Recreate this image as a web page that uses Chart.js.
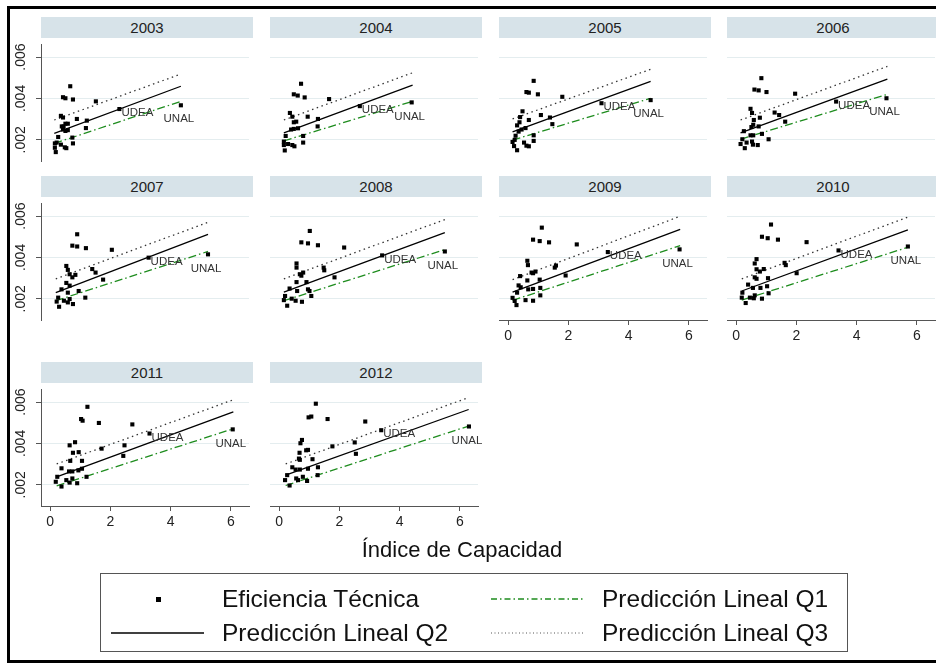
<!DOCTYPE html>
<html>
<head>
<meta charset="utf-8">
<script src="https://cdn.jsdelivr.net/npm/chart.js@4.4.0/dist/chart.umd.min.js"></script>
<style>
  body { margin: 0; width: 936px; height: 669px; background: #fff; overflow: hidden; position: relative;
         font-family: "Liberation Sans", Arial, sans-serif; }
  .marco { position: absolute; left: 7px; top: 6px; width: 940px; height: 657px; border: 3px solid #000; box-sizing: border-box; }
  .tira { position: absolute; width: 212px; height: 21px; background: #d7e3e9; color: #222;
          font-size: 15px; line-height: 21px; text-align: center; }
  canvas { position: absolute; }
  .titulo-x { position: absolute; left: 262px; width: 400px; top: 537px; font-size: 22px; line-height: 26px;
              text-align: center; color: #111; }
  .leyenda { position: absolute; left: 100px; top: 573px; width: 748px; height: 79px; border: 1px solid #555; box-sizing: border-box; }
  .item { position: absolute; font-size: 24.5px; line-height: 28px; color: #111; white-space: nowrap; }
  svg { position: absolute; left: 0; top: 0; }
</style>
</head>
<body>
<div class="marco"></div>
<div id="paneles"></div>
<div class="titulo-x">Índice de Capacidad</div>
<div class="leyenda"></div>
<svg width="936" height="669">
  <rect x="156" y="597" width="5" height="5" fill="#000"/>
  <line x1="111" y1="633" x2="204" y2="633" stroke="#000" stroke-width="1.5"/>
  <line x1="491" y1="599" x2="583" y2="599" stroke="#1e8c1e" stroke-width="1.5" stroke-dasharray="6 3 1.5 3"/>
  <line x1="491" y1="633" x2="583" y2="633" stroke="#555" stroke-width="1" stroke-dasharray="1 2.5"/>
</svg>
<div class="item" style="left:222px; top:585px;">Eficiencia Técnica</div>
<div class="item" style="left:222px; top:619px;">Predicción Lineal Q2</div>
<div class="item" style="left:602px; top:585px;">Predicción Lineal Q1</div>
<div class="item" style="left:602px; top:619px;">Predicción Lineal Q3</div>

<script>
// Años (paneles)
const anios = ['2003', '2004', '2005', '2006', '2007', '2008', '2009', '2010', '2011', '2012'];

// Marcas de los ejes
const ticksX = [0, 2, 4, 6];
const ticksY = [0.002, 0.004, 0.006];

// Eficiencia técnica [índice de capacidad, eficiencia] por año (sin UDEA y UNAL)
const ef2003 = [[.67,.00459],[.43,.00406],[.51,.00401],[.76,.00395],[1.52,.00386],[.36,.00316],[.43,.00308],[.89,.00301],[.51,.00278],[.59,.00278],[.39,.00265],[.45,.00265],[1.22,.00293],[1.19,.00257],[.43,.0025],[.51,.00243],[.59,.00247],[.27,.00214],[.74,.00211],[.16,.00183],[.22,.00187],[.36,.00177],[.49,.00164],[.54,.0016],[.76,.00183],[.19,.00141],[.16,.00162]];
const ef2004 = [[.73,.00471],[.49,.0042],[.62,.00414],[.85,.00405],[1.66,.00397],[.36,.0033],[.44,.00312],[.95,.00312],[.49,.00285],[.57,.00288],[1.29,.00301],[1.28,.00265],[.40,.0025],[.49,.00253],[.63,.00256],[.22,.00219],[.80,.00219],[.16,.00192],[.30,.0018],[.44,.00175],[.51,.00169],[.80,.00187],[.19,.00149],[.16,.00175]];
const ef2005 = [[.85,.00485],[.61,.00431],[.69,.00428],[.99,.0042],[1.80,.00408],[.48,.00338],[1.09,.0032],[.69,.00296],[1.39,.00308],[1.47,.00276],[.58,.00257],[.85,.00222],[.85,.00195],[.53,.00187],[.61,.00172],[.69,.00169],[.15,.0019],[.2,.0017],[.25,.0022],[.3,.0015],[.35,.0024],[.3,.0027],[.4,.0031],[.22,.002],[.45,.0025],[.38,.00285]];
const ef2006 = [[.84,.00498],[.61,.00443],[.75,.00439],[1.01,.00431],[1.96,.00423],[.48,.0035],[.53,.0033],[.79,.00307],[.59,.00296],[1.28,.00332],[1.43,.0032],[.57,.00273],[.51,.00262],[.75,.00265],[1.63,.00288],[.26,.00242],[.48,.00222],[.57,.00222],[.86,.00229],[1.08,.00203],[.21,.00203],[.35,.00187],[.53,.00192],[.56,.00177],[.72,.00175],[.15,.0018],[.29,.0016]];
const ef2007 = [[.90,.00512],[.74,.00457],[.90,.00453],[1.19,.00445],[2.05,.00437],[.54,.00359],[.59,.0034],[.65,.00319],[.74,.00304],[.84,.00316],[1.40,.00344],[1.51,.00327],[1.76,.00293],[.54,.00277],[.65,.00264],[.38,.00246],[.95,.00238],[.59,.0023],[.27,.00206],[.22,.00187],[.46,.00191],[.59,.00183],[.65,.00199],[.76,.00175],[1.17,.00206],[.30,.00162]];
const ef2008 = [[1.02,.00528],[.74,.00473],[.96,.00468],[1.29,.00459],[2.16,.00448],[.58,.00371],[.58,.00351],[.69,.00319],[.80,.00327],[.74,.00312],[1.48,.00351],[1.50,.00338],[1.84,.00304],[.58,.00281],[.91,.00281],[.35,.0025],[.60,.00238],[.96,.00246],[1.01,.00238],[.20,.00214],[.16,.00194],[.42,.00201],[.55,.00191],[.76,.00186],[1.07,.00214],[.27,.00167]];
const ef2009 = [[1.12,.00544],[.83,.00486],[1.05,.00479],[1.36,.00473],[2.28,.00463],[.64,.00384],[.66,.00363],[.78,.00327],[.91,.00332],[.83,.00324],[1.55,.00351],[1.59,.00361],[1.91,.00313],[.64,.00289],[1.05,.00293],[.42,.00256],[.67,.00246],[.83,.00248],[1.07,.00253],[.58,.00194],[.83,.00191],[1.07,.00217],[.15,.00205],[.22,.0019],[.3,.0023],[.35,.00265],[.28,.0017],[.4,.0031]];
const ef2010 = [[1.16,.00559],[.86,.005],[1.05,.00493],[1.39,.00486],[2.34,.00474],[.68,.00392],[.62,.00371],[.68,.00343],[.79,.00332],[.92,.00344],[1.61,.00374],[1.65,.00363],[2.01,.00324],[.62,.00304],[.68,.00297],[1.06,.003],[.40,.00269],[.56,.00253],[.81,.00253],[1.03,.00261],[.21,.0023],[1.08,.00227],[.62,.00217],[.86,.00201],[.19,.00206],[.46,.00206],[.59,.00203],[.32,.0018]];
const ef2011 = [[1.24,.00577],[1.03,.00518],[1.08,.0051],[1.62,.00499],[2.73,.00492],[.65,.00391],[.83,.00406],[.76,.00355],[.95,.00358],[1.71,.00375],[2.47,.00391],[.67,.00316],[1.06,.00316],[.38,.0028],[.63,.00265],[.74,.00265],[.94,.0027],[1.06,.00278],[.24,.00239],[1.21,.00239],[.54,.00223],[.74,.00231],[.19,.00215],[.65,.00211],[.90,.00208],[.38,.00192],[2.43,.0034]];
const ef2012 = [[1.22,.00592],[.98,.00526],[1.07,.0053],[1.61,.00518],[2.86,.00506],[.76,.00417],[.71,.00401],[1.77,.00386],[2.51,.00405],[.90,.00367],[.96,.00369],[.68,.00355],[.66,.00327],[.69,.00321],[1.11,.00324],[2.55,.0035],[.44,.00285],[.55,.00274],[.69,.00274],[.96,.00278],[1.29,.00285],[.27,.00247],[.57,.00231],[.63,.00223],[.79,.00239],[.93,.00219],[1.28,.00247],[.20,.00223],[.35,.00197]];
const eficiencia = [ef2003, ef2004, ef2005, ef2006, ef2007, ef2008, ef2009, ef2010, ef2011, ef2012];

// Universidades etiquetadas
const udeaX = [2.30, 2.68, 3.10, 3.32, 3.27, 3.42, 3.31, 3.40, 3.30, 3.39];
const udeaY = [.00349, .00363, .00377, .00385, .00399, .0041, .00426, .00434, .00448, .00464];
const unalX = [4.34, 4.40, 4.73, 4.99, 5.24, 5.50, 5.69, 5.70, 6.06, 6.30];
const unalY = [.00367, .00381, .00392, .00401, .00415, .00429, .00439, .00453, .00468, .00482];

// Predicciones lineales: extremos (x inicial / final y valores en cada extremo)
const lineaX0 = [0.14, 0.16, 0.15, 0.15, 0.19, 0.16, 0.15, 0.19, 0.22, 0.22];
const lineaX1 = [4.34, 4.43, 4.73, 5.02, 5.24, 5.50, 5.71, 5.70, 6.08, 6.29];
const q1Y0 = [.00183, .00195, .00199, .00203, .00191, .00191, .00193, .00194, .00195, .00197];
const q1Y1 = [.00386, .00386, .00401, .0042, .00429, .00438, .00457, .00449, .00471, .00484];
const q2Y0 = [.00231, .00234, .00239, .00234, .0023, .00233, .00233, .00238, .00239, .00247];
const q2Y1 = [.00459, .00464, .00482, .00493, .00512, .0052, .00536, .00533, .00553, .00564];
const q3Y0 = [.00296, .00296, .00301, .00296, .00297, .00297, .00293, .00297, .00301, .00301];
const q3Y1 = [.00518, .00524, .00541, .00555, .0057, .00583, .00599, .00595, .00611, .00622];

// Geometría de la cuadrícula de paneles
const colIzq = [41, 270, 499, 727];
const filaSup = [40, 199, 385];
const anchoPanel = 212, altoPanel = 121, margenEje = 40;

const fuente = '"Liberation Sans", Arial, sans-serif';

// Etiquetas UDEA / UNAL y números del eje Y girados
const pluginEtiquetas = {
    id: 'etiquetas',
    afterDatasetsDraw(chart, args, opts) {
        const { ctx, chartArea } = chart;
        const x = chart.scales.x, y = chart.scales.y;
        const i = opts.idx;
        ctx.save();
        ctx.fillStyle = '#333';
        ctx.font = '11.5px ' + fuente;
        ctx.textBaseline = 'middle';
        ctx.textAlign = 'left';
        ctx.fillText('UDEA', x.getPixelForValue(udeaX[i]) + 2, y.getPixelForValue(udeaY[i]) + 4);
        ctx.textAlign = 'center';
        ctx.fillText('UNAL', x.getPixelForValue(unalX[i]) - 2, y.getPixelForValue(unalY[i]) + 14);
        if (opts.showY) {
            ctx.fillStyle = '#222';
            ctx.font = '14px ' + fuente;
            ticksY.forEach(v => {
                ctx.save();
                ctx.translate(chartArea.left - 19.5, y.getPixelForValue(v));
                ctx.rotate(-Math.PI / 2);
                ctx.fillText(v.toFixed(3).replace(/^0/, ''), 0, 0);
                ctx.restore();
            });
        }
        ctx.restore();
    }
};

function crearPanel(i) {
    const col = i % 4, fila = Math.floor(i / 4);
    const showY = col === 0;
    const showX = i >= 6;
    const cont = document.getElementById('paneles');

    const tira = document.createElement('div');
    tira.className = 'tira';
    tira.style.left = colIzq[col] + 'px';
    tira.style.top = (filaSup[fila] - 23) + 'px';
    tira.textContent = anios[i];
    cont.appendChild(tira);

    const canvas = document.createElement('canvas');
    canvas.width = anchoPanel + margenEje;
    canvas.height = altoPanel + margenEje;
    canvas.style.left = (colIzq[col] - margenEje) + 'px';
    canvas.style.top = filaSup[fila] + 'px';
    cont.appendChild(canvas);

    const puntos = eficiencia[i].map(p => ({ x: p[0], y: p[1] }))
        .concat([{ x: udeaX[i], y: udeaY[i] }, { x: unalX[i], y: unalY[i] }]);

    new Chart(canvas, {
        type: 'scatter',
        data: {
            datasets: [{
                label: 'Eficiencia Técnica',
                data: puntos,
                pointStyle: 'rect',
                pointRadius: 2.9,
                pointBorderWidth: 0,
                backgroundColor: '#000'
            }, {
                label: 'Predicción Lineal Q2',
                data: [{ x: lineaX0[i], y: q2Y0[i] }, { x: lineaX1[i], y: q2Y1[i] }],
                showLine: true, pointRadius: 0, borderColor: '#000', borderWidth: 1.3
            }, {
                label: 'Predicción Lineal Q3',
                data: [{ x: lineaX0[i], y: q3Y0[i] }, { x: lineaX1[i], y: q3Y1[i] }],
                showLine: true, pointRadius: 0, borderColor: '#333', borderWidth: 1.3, borderDash: [1.5, 3.5]
            }, {
                label: 'Predicción Lineal Q1',
                data: [{ x: lineaX0[i], y: q1Y0[i] }, { x: lineaX1[i], y: q1Y1[i] }],
                showLine: true, pointRadius: 0, borderColor: '#1e8c1e', borderWidth: 1.3, borderDash: [8, 3, 1.5, 3]
            }]
        },
        options: {
            responsive: false,
            animation: false,
            devicePixelRatio: 1,
            layout: { padding: 0 },
            plugins: {
                legend: { display: false },
                tooltip: { enabled: false },
                etiquetas: { idx: i, showY: showY }
            },
            scales: {
                x: {
                    type: 'linear', min: -0.3, max: 6.6,
                    afterBuildTicks: s => { s.ticks = ticksX.map(v => ({ value: v })); },
                    afterFit: s => { s.height = margenEje; },
                    ticks: { display: showX, color: '#222', font: { size: 14, family: fuente }, padding: 3 },
                    grid: { display: showX, drawOnChartArea: false, tickLength: 5, color: '#555' },
                    border: { display: showX, color: '#555', width: 1 }
                },
                y: {
                    type: 'linear', min: 0.00098, max: 0.00663,
                    afterBuildTicks: s => { s.ticks = ticksY.map(v => ({ value: v })); },
                    afterFit: s => { s.width = margenEje; },
                    ticks: { display: false },
                    grid: { color: '#e4edef', lineWidth: 1, drawTicks: showY, tickLength: 5, tickColor: '#555' },
                    border: { display: showY, color: '#555', width: 1 }
                }
            }
        },
        plugins: [pluginEtiquetas]
    });
}

anios.forEach((a, i) => crearPanel(i));
</script>
</body>
</html>
